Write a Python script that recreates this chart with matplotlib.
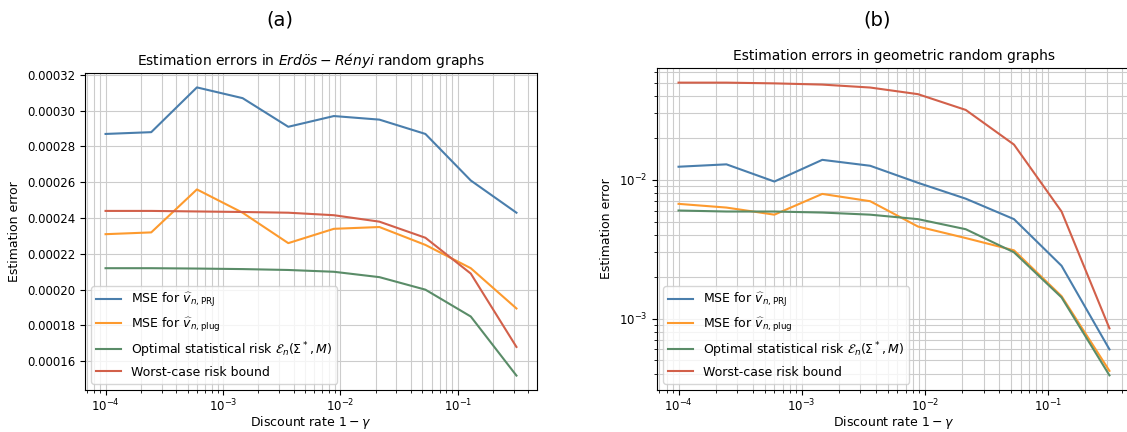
import numpy as np
import matplotlib
matplotlib.use("Agg")
import matplotlib.pyplot as plt

# discount rates 1 - gamma (same grid in both panels)
discount = [1e-4, 2.45e-4, 6.0e-4, 1.47e-3, 3.6e-3, 8.8e-3, 2.15e-2, 5.3e-2, 0.129, 0.316]

# (a) Erdos-Renyi graphs
er_prj = [0.000287, 0.000288, 0.000313, 0.000307, 0.000291, 0.000297, 0.000295, 0.000287, 0.000261, 0.000243]
er_plug = [0.000231, 0.000232, 0.000256, 0.000243, 0.000226, 0.000234, 0.000235, 0.000225, 0.000212, 0.0001895]
er_opt = [0.000212, 0.000212, 0.0002118, 0.0002115, 0.000211, 0.000210, 0.000207, 0.000200, 0.000185, 0.000152]
er_bound = [0.000244, 0.000244, 0.0002437, 0.0002434, 0.000243, 0.0002416, 0.000238, 0.000229, 0.000209, 0.000168]

# (b) geometric graphs
geo_prj = [0.0124, 0.0129, 0.0097, 0.0139, 0.0126, 0.0095, 0.0073, 0.0052, 0.0024, 0.0006]
geo_plug = [0.0067, 0.0063, 0.0056, 0.0079, 0.0070, 0.0046, 0.0038, 0.0031, 0.00145, 0.00042]
geo_opt = [0.0060, 0.0059, 0.0059, 0.0058, 0.0056, 0.0052, 0.0044, 0.0030, 0.00142, 0.00039]
geo_bound = [0.0500, 0.0500, 0.0494, 0.0484, 0.0461, 0.0413, 0.0318, 0.0179, 0.0059, 0.00085]

labels = [r"MSE for $\widehat{v}_{n,\mathrm{PRJ}}$",
          r"MSE for $\widehat{v}_{n,\mathrm{plug}}$",
          r"Optimal statistical risk $\mathcal{E}_n(\Sigma^*,M)$",
          "Worst-case risk bound"]
colors = ["#4a7eac", "#fd9a2e", "#5a8c68", "#d2604a"]

W, H = 1127, 432
fig = plt.figure(figsize=(W / 100, H / 100), dpi=100)


def px_axes(x0, y0, x1, y1):
    return fig.add_axes([x0 / W, 1 - y1 / H, (x1 - x0) / W, (y1 - y0) / H])


ax1 = px_axes(85, 73, 537, 390)
ax2 = px_axes(657, 68, 1131, 390)

for ax, series, title in [
    (ax1, [er_prj, er_plug, er_opt, er_bound], r"Estimation errors in $Erdös-Rényi$ random graphs"),
    (ax2, [geo_prj, geo_plug, geo_opt, geo_bound], "Estimation errors in geometric random graphs"),
]:
    for ys, lab, c in zip(series, labels, colors):
        ax.plot(discount, ys, color=c, lw=1.5, label=lab)
    ax.set_xscale("log")
    ax.grid(True, which="both", color="#cccccc", lw=0.8)
    ax.set_title(title, fontsize=10)
    ax.set_xlabel(r"Discount rate $1-\gamma$", fontsize=9, labelpad=0)
    ax.set_ylabel("Estimation error", fontsize=9)
    ax.tick_params(labelsize=8.5)
    ax.tick_params(axis="x", pad=2)
    ax.legend(loc="lower left", fontsize=9)

ax1.set_yticks([0.00016, 0.00018, 0.00020, 0.00022, 0.00024, 0.00026, 0.00028, 0.00030, 0.00032])
ax1.set_yticklabels(["%.5f" % v for v in ax1.get_yticks()])
ax2.set_yscale("log")

fig.text(280 / W, 1 - 20 / H, "(a)", fontsize=14, ha="center", va="center")
fig.text(877 / W, 1 - 20 / H, "(b)", fontsize=14, ha="center", va="center")

fig.savefig("out.png", dpi=100)
